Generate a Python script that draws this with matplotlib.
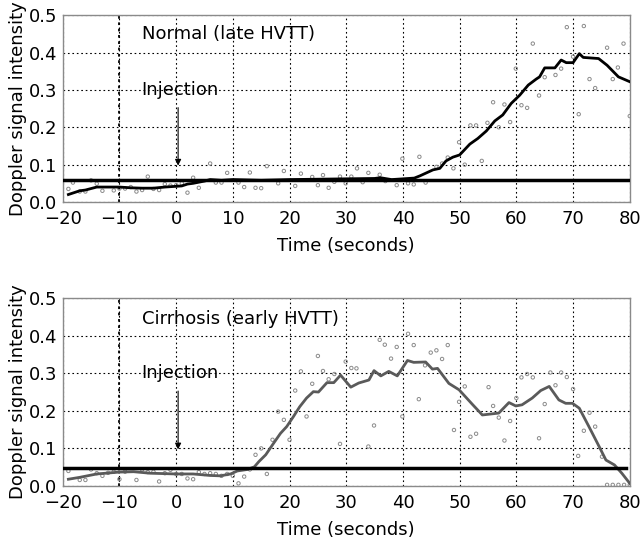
import matplotlib
matplotlib.use("Agg")
import matplotlib.pyplot as plt

plt.rcParams['font.family'] = ['DejaVu Sans']

# top panel: normal (late HVTT)
top_curve_x = [-19, -18, -17, -16, -15, -14, -12, -10, -8, -6, -4, -2, 0, 1, 2, 3, 4, 5, 6, 8, 10,
               15, 20, 25, 30, 35, 36, 38, 40, 42, 43, 45.3, 46.5, 47.6, 48.8, 50, 51.8, 53.2, 54.7,
               56.2, 57.6, 59.1, 60.6, 62.1, 63.5, 64.1, 65, 66.8, 67.9, 68.8, 70, 71.1, 71.8,
               74.5, 76, 78, 80]
top_curve_y = [0.02, 0.025, 0.03, 0.032, 0.036, 0.04, 0.04, 0.04, 0.038, 0.037, 0.037, 0.04, 0.042,
               0.043, 0.048, 0.05, 0.053, 0.056, 0.06, 0.058, 0.06, 0.058, 0.06, 0.061, 0.062,
               0.063, 0.065, 0.06, 0.062, 0.064, 0.07, 0.086, 0.09, 0.11, 0.12, 0.126, 0.155, 0.17,
               0.19, 0.217, 0.233, 0.264, 0.286, 0.313, 0.329, 0.335, 0.359, 0.359, 0.38, 0.373,
               0.373, 0.397, 0.387, 0.384, 0.366, 0.335, 0.322]
top_pts_x = [-19, -18.2, -17, -16, -15, -14, -13, -11, -10, -9, -8, -7, -6, -5, -4, -3, -2, -1, 0,
             1, 2, 3, 4, 6, 7, 8, 9, 11, 12, 13, 14, 15, 16, 18, 19, 21, 22, 24, 25,
             25.9, 26.9, 27.9, 28.9, 29.9, 30.9, 31.9, 32.9, 33.9, 35.9, 36.9, 38.9, 39.9, 40.9,
             41.9, 42.9, 44, 45.9, 46.9, 47.9, 48.9, 49.9, 50.9, 51.9, 52.9, 53.9, 54.9, 55.9,
             56.9, 57.9, 58.9, 59.9, 60.9, 61.9, 62.9, 64, 65, 66.9, 67.9, 68.9, 70, 71, 71.9,
             72.9, 73.9, 76, 77, 77.9, 78.9, 80]
top_pts_y = [0.035, 0.052, 0.028, 0.028, 0.058, 0.049, 0.03, 0.031, 0.036, 0.036, 0.04, 0.028,
             0.032, 0.068, 0.035, 0.032, 0.048, 0.044, 0.045, 0.05, 0.025, 0.065, 0.038, 0.103,
             0.052, 0.052, 0.078, 0.052, 0.04, 0.079, 0.038, 0.037, 0.096, 0.05, 0.083, 0.043,
             0.076, 0.067, 0.045, 0.072, 0.038, 0.054, 0.068, 0.05, 0.068, 0.09, 0.053, 0.078,
             0.073, 0.056, 0.045, 0.116, 0.05, 0.047, 0.121, 0.052, 0.094, 0.103, 0.119, 0.09,
             0.16, 0.1, 0.205, 0.205, 0.11, 0.212, 0.267, 0.2, 0.261, 0.214, 0.357, 0.259, 0.252,
             0.424, 0.285, 0.334, 0.34, 0.357, 0.468, 0.389, 0.235, 0.471, 0.329, 0.305, 0.413,
             0.329, 0.36, 0.424, 0.23]
top_threshold = 0.06

# bottom panel: cirrhosis (early HVTT)
bot_curve_x = [-19, -17, -14, -10, -7.5, -4.6, 0, 3, 6, 7.8, 9.6, 10.8, 12.6, 13.8, 14.6, 15.8,
               17.2, 18.4, 19.5, 20.7, 21.8, 23, 24.2, 25.1, 26.6, 27.8, 29, 30.8, 32.2, 34, 34.9,
               36.1, 37.5, 39, 40.8, 41.9, 44, 45.2, 46.1, 48.1, 49.9, 52.2, 54, 56.9, 58.7, 59.9,
               61, 62.8, 64.3, 65.8, 67.5, 68.7, 69.9, 71.1, 72.8, 74.6, 75.8, 77.3, 78.6, 80]
bot_curve_y = [0.018, 0.023, 0.032, 0.037, 0.038, 0.034, 0.032, 0.032, 0.028, 0.027, 0.032, 0.04,
               0.044, 0.051, 0.065, 0.083, 0.114, 0.14, 0.158, 0.185, 0.211, 0.234, 0.251, 0.25,
               0.275, 0.275, 0.295, 0.263, 0.274, 0.282, 0.307, 0.293, 0.305, 0.293, 0.334, 0.329,
               0.33, 0.311, 0.313, 0.273, 0.256, 0.218, 0.189, 0.194, 0.222, 0.213, 0.216, 0.234,
               0.254, 0.265, 0.229, 0.22, 0.22, 0.207, 0.158, 0.105, 0.069, 0.056, 0.034, 0.007]
bot_pts_x = [-19, -17, -16, -15, -14, -13, -12, -11, -10, -9, -7, -6, -5, -4, -3, -2, -1, 0, 1, 2,
             3, 4, 5, 6, 7, 8, 9, 10, 11, 12, 13, 14, 15, 16, 17, 18, 19, 20, 21, 22, 23, 24, 25,
             25.9, 26.9, 27.9, 28.9, 29.9, 30.9, 31.8, 33.9, 34.9, 35.9, 36.8, 37.9, 38.9, 39.9,
             40.9, 41.9, 42.8, 43.9, 44.9, 45.9, 46.9, 47.9, 49, 49.9, 50.9, 51.9, 52.9, 55.1,
             55.9, 56.9, 57.9, 58.9, 60, 60.9, 61.9, 62.9, 64, 65, 66, 66.9, 67.9, 68.9, 70, 70.9,
             71.9, 72.9, 73.9, 75.1, 76, 77, 78, 79, 80]
bot_pts_y = [0.04, 0.016, 0.016, 0.044, 0.034, 0.027, 0.035, 0.038, 0.018, 0.038, 0.016, 0.044,
             0.037, 0.038, 0.012, 0.034, 0.043, 0.032, 0.032, 0.02, 0.018, 0.037, 0.032, 0.034,
             0.032, 0.027, 0.032, 0.027, 0.007, 0.025, 0.044, 0.083, 0.1, 0.032, 0.123, 0.198,
             0.176, 0.123, 0.254, 0.305, 0.185, 0.272, 0.346, 0.306, 0.284, 0.298, 0.112, 0.331,
             0.314, 0.313, 0.105, 0.161, 0.389, 0.376, 0.339, 0.37, 0.185, 0.405, 0.375, 0.231,
             0.321, 0.355, 0.361, 0.338, 0.375, 0.149, 0.224, 0.265, 0.131, 0.139, 0.263, 0.213,
             0.182, 0.121, 0.173, 0.234, 0.289, 0.298, 0.289, 0.127, 0.218, 0.302, 0.268, 0.302,
             0.29, 0.258, 0.08, 0.147, 0.195, 0.158, 0.078, 0.003, 0.003, 0.003, 0.003, 0.003]
bot_threshold = 0.047

xticks = [-20, -10, 0, 10, 20, 30, 40, 50, 60, 70, 80]
yticks = [0.0, 0.1, 0.2, 0.3, 0.4, 0.5]

fig = plt.figure(figsize=(6.4, 5.43), dpi=100)
ax1 = fig.add_axes([0.098, 0.628, 0.886, 0.344])
ax2 = fig.add_axes([0.098, 0.105, 0.886, 0.346])

panels = [
    (ax1, top_curve_x, top_curve_y, top_pts_x, top_pts_y, top_threshold, 'black',
     'Normal (late HVTT)', 0.45, 79.8),
    (ax2, bot_curve_x, bot_curve_y, bot_pts_x, bot_pts_y, bot_threshold, '#5a5a5a',
     'Cirrhosis (early HVTT)', 0.444, 79.4),
]

fs = 13

for ax, cx, cy, px, py, thr, col, title, ty, thr_end in panels:
    ax.set_xlim(-20, 80)
    ax.set_ylim(0, 0.5)
    ax.set_xticks(xticks)
    ax.set_yticks(yticks)
    ax.set_xticklabels(['\u2212%d' % -t if t < 0 else str(t) for t in xticks])
    ax.set_yticklabels(['%.1f' % t for t in yticks])
    ax.tick_params(length=0, labelsize=fs)
    ax.tick_params(axis='x', pad=6)
    ax.tick_params(axis='y', pad=4)
    ax.grid(True, color='black', linestyle=(0, (1.5, 2.5)), linewidth=0.8)
    ax.axvline(-10, color='black', linestyle=(0, (1.5, 2)), linewidth=1.3, zorder=1)
    for s in ax.spines.values():
        s.set_color('#8a8a8a')
        s.set_linewidth(1)
    ax.scatter(px, py, s=6, facecolors='none', edgecolors='#8a8a8a', linewidths=0.7, zorder=3)
    ax.plot(cx, cy, color=col, linewidth=2, zorder=4)
    ax.plot([-20, thr_end], [thr, thr], color='black', linewidth=2.5, zorder=5)
    ax.text(-6, ty, title, fontsize=fs, va='center', ha='left')
    ax.text(-6.1, 0.30, 'Injection', fontsize=fs, va='center', ha='left')
    ax.annotate('', xy=(0.35, 0.09), xytext=(0.35, 0.26),
                arrowprops=dict(arrowstyle='-|>', color='black', lw=0.8,
                                mutation_scale=9))
    ax.set_xlabel('Time (seconds)', fontsize=fs, labelpad=6)
    ax.set_ylabel('Doppler signal intensity', fontsize=fs, labelpad=1)

fig.savefig('out.png', dpi=100)
